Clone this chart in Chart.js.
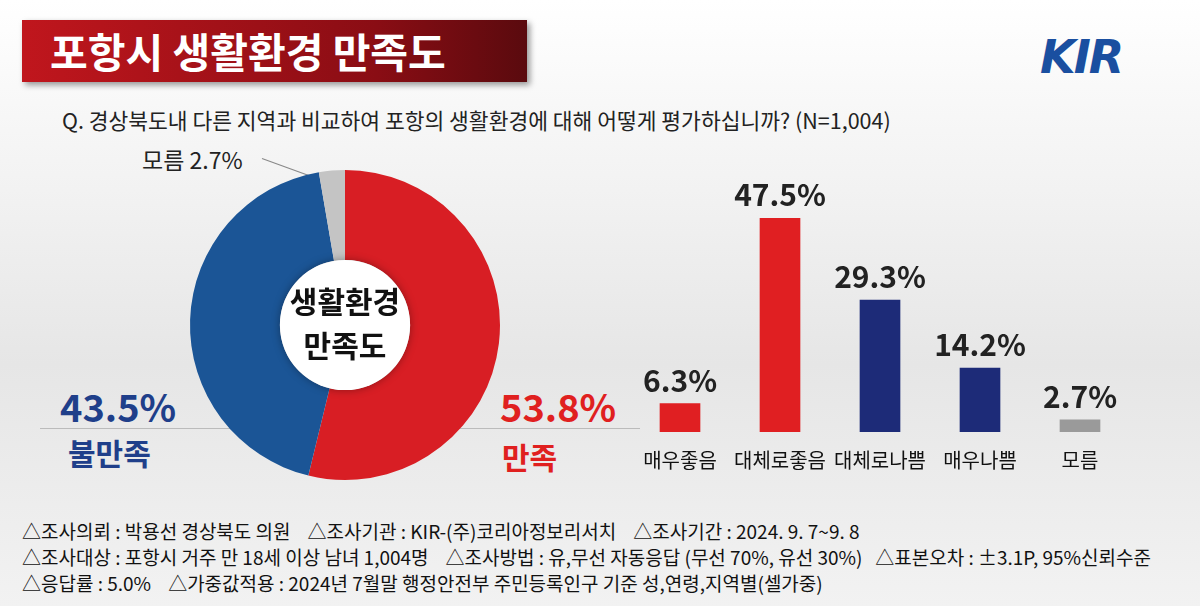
<!DOCTYPE html><html><head><meta charset="utf-8">
<script src="https://cdn.jsdelivr.net/npm/chart.js@4"></script>
<style>
body{margin:0;width:1200px;height:606px;overflow:hidden;font-family:"Noto Sans CJK KR",sans-serif;background:linear-gradient(#ffffff,#e6e6e6 60%,#f2f2f2);position:relative}
.t{position:absolute;white-space:nowrap}
</style></head><body>
<div class="t" style="left:22px;top:20px;width:505px;height:62px;background:linear-gradient(90deg,#c0161d,#8a0d14 70%,#5a0a0e);box-shadow:3px 3px 6px rgba(0,0,0,.4)"></div>
<div class="t" style="left:50px;top:20px;color:#fff;font-size:41px;font-weight:700">포항시 생활환경 만족도</div>
<div class="t" style="left:1040px;top:30px;color:#1a4fa0;font-size:46px;font-weight:900;font-style:italic;letter-spacing:-2px;font-family:'DejaVu Sans'">KIR</div>
<div class="t" style="left:62px;top:104px;color:#222;font-size:21.5px">Q. 경상북도내 다른 지역과 비교하여 포항의 생활환경에 대해 어떻게 평가하십니까? (N=1,004)</div>
<div class="t" style="left:142px;top:142px;color:#222;font-size:23px">모름 2.7%</div>
<div class="t" style="left:262px;top:158px;width:60px;border-top:1px solid #888;transform:rotate(20deg);transform-origin:left"></div>
<div class="t" style="left:40px;top:428px;width:600px;border-top:1px solid #bbb"></div>
<div class="t" style="left:60px;top:378px;color:#1f3f8a;font-size:38px;font-weight:700">43.5%</div>
<div class="t" style="left:68px;top:430px;color:#1f3f8a;font-size:30px;font-weight:700">불만족</div>
<div class="t" style="left:500px;top:378px;color:#e0201f;font-size:38px;font-weight:700">53.8%</div>
<div class="t" style="left:502px;top:434px;color:#e0201f;font-size:30px;font-weight:700">만족</div>
<div class="t" style="left:180px;top:160px;width:330px;height:330px"><canvas id="d"></canvas></div>
<div class="t" style="left:180px;top:278px;width:330px;text-align:center;color:#111;font-size:30px;font-weight:700;line-height:44px;z-index:2">생활환경<br>만족도</div>
<div class="t" style="left:630px;top:180px;width:500px;height:300px"><canvas id="b"></canvas></div>
<div class="t" style="left:22px;top:518px;color:#111;font-size:19px;line-height:26px">△조사의뢰 : 박용선 경상북도 의원 &nbsp;&nbsp;&nbsp;△조사기관 : KIR-(주)코리아정보리서치 &nbsp;&nbsp;&nbsp;△조사기간 : 2024. 9. 7~9. 8<br>△조사대상 : 포항시 거주 만 18세 이상 남녀 1,004명 &nbsp;&nbsp;&nbsp;△조사방법 : 유,무선 자동응답 (무선 70%, 유선 30%) &nbsp;&nbsp;△표본오차 : ±3.1P, 95%신뢰수준<br>△응답률 : 5.0% &nbsp;&nbsp;&nbsp;△가중값적용 : 2024년 7월말 행정안전부 주민등록인구 기준 성,연령,지역별(셀가중)</div>
<script>
const donutLabels=["만족","불만족","모름"];
const donutValues=[53.8,43.5,2.7];
const barLabels=["매우좋음","대체로좋음","대체로나쁨","매우나쁨","모름"];
const barValues=[6.3,47.5,29.3,14.2,2.7];
const barColors=["#e01f22","#e01f22","#1d2b78","#1d2b78","#9a9a9a"];
new Chart(document.getElementById('d'),{type:'doughnut',data:{labels:donutLabels,datasets:[{data:donutValues,backgroundColor:["#d81e24","#1b5596","#c4c4c4"],borderWidth:0}]},
options:{responsive:true,maintainAspectRatio:false,animation:false,cutout:'42%',layout:{padding:10},plugins:{legend:{display:false},tooltip:{enabled:false}}},
plugins:[{id:'c',afterDraw(ch){const m=ch.getDatasetMeta(0).data[0];const x=ch.ctx;x.save();x.beginPath();x.arc(m.x,m.y,m.innerRadius,0,Math.PI*2);x.fillStyle='#fff';x.shadowColor='rgba(0,0,0,.35)';x.shadowBlur=8;x.fill();x.restore();}}]});
new Chart(document.getElementById('b'),{type:'bar',data:{labels:barLabels,datasets:[{data:barValues,backgroundColor:barColors,barThickness:40}]},
options:{responsive:true,maintainAspectRatio:false,animation:false,plugins:{legend:{display:false},tooltip:{enabled:false}},
scales:{y:{display:false,min:0,max:56},x:{grid:{display:false},border:{display:false},ticks:{color:'#111',autoSkip:false,maxRotation:0,font:{size:20,family:'Noto Sans CJK KR'},padding:8}}}},
plugins:[{id:'v',afterDatasetsDraw(ch){const x=ch.ctx;x.save();x.font='bold 30px "Noto Sans CJK KR"';x.fillStyle='#222';x.textAlign='center';ch.getDatasetMeta(0).data.forEach((e,i)=>x.fillText(barValues[i]+'%',e.x,e.y-12));x.restore();}}]});
</script></body></html>
